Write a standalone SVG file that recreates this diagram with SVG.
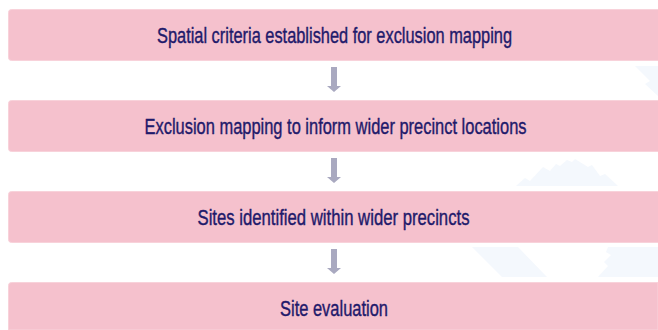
<svg xmlns="http://www.w3.org/2000/svg" width="658" height="330" viewBox="0 0 658 330">
  <style>
    .box { fill: #f5c1cd; stroke: #f8d2da; stroke-width: 1; }
    .label { font-family: "Liberation Sans Narrow", "Liberation Sans", Arial, sans-serif; font-size: 22px; fill: #1f1a6b; stroke: #1f1a6b; stroke-width: 0.4; text-anchor: middle; }
    .wm { fill: #f4f8fd; }
    .arrow { fill: #a9a9c0; }
  </style>
  <rect x="0" y="0" width="658" height="330" fill="#ffffff"/>
  <g id="watermark">
    <polygon class="wm" points="635,66 658,66 658,96 645,84 650,81 643,74"/>
    <polygon class="wm" points="516,186 525,178 530,181 543,167 550,171 556,164 560,166 567,160 572,162 575,159 588,167 592,165 600,176 605,174 618,186"/>
    <polygon class="wm" points="472,247 518,247 547,277 502,277"/>
    <polygon class="wm" points="608,247 658,247 658,277 598,277 608,266 604,262 611,255 606,252"/>
  </g>
  <g id="node1">
    <path class="box" d="M658,9.5 H11.5 Q8.5,9.5 8.5,12.5 V57.5 Q8.5,60.5 11.5,60.5 H658"/>
    <text class="label" x="334.5" y="42.5" textLength="355" lengthAdjust="spacingAndGlyphs">Spatial criteria established for exclusion mapping</text>
  </g>
  <g id="node2">
    <path class="box" d="M658,100.5 H11.5 Q8.5,100.5 8.5,103.5 V148.5 Q8.5,151.5 11.5,151.5 H658"/>
    <text class="label" x="335.5" y="133.5" textLength="382" lengthAdjust="spacingAndGlyphs">Exclusion mapping to inform wider precinct locations</text>
  </g>
  <g id="node3">
    <path class="box" d="M658,191.5 H11.5 Q8.5,191.5 8.5,194.5 V239.5 Q8.5,242.5 11.5,242.5 H658"/>
    <text class="label" x="333.5" y="224.5" textLength="272" lengthAdjust="spacingAndGlyphs">Sites identified within wider precincts</text>
  </g>
  <g id="node4">
    <path class="box" d="M658,282.5 H11.5 Q8.5,282.5 8.5,285.5 V330 H658 Z"/>
    <text class="label" x="334" y="315.5" textLength="108" lengthAdjust="spacingAndGlyphs">Site evaluation</text>
  </g>
  <g id="connectors">
    <polygon class="arrow" points="331,67 337,67 337,86 341,86 334,92 327,86 331,86"/>
    <polygon class="arrow" points="331,158 337,158 337,177 341,177 334,183 327,177 331,177"/>
    <polygon class="arrow" points="331,249 337,249 337,268 341,268 334,274 327,268 331,268"/>
  </g>
</svg>
